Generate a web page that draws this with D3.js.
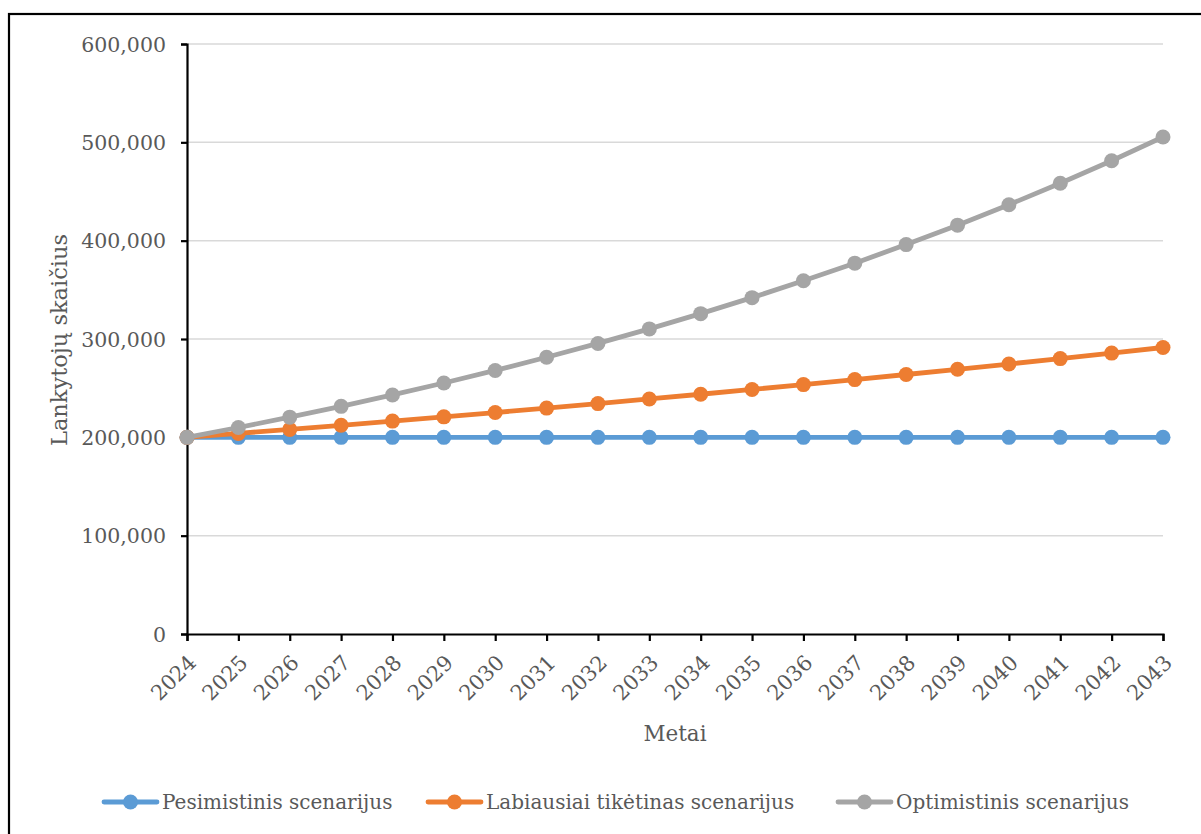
<!DOCTYPE html>
<html>
<head>
<meta charset="utf-8">
<script src="https://cdn.jsdelivr.net/npm/d3@7"></script>
<style>
  html, body { margin: 0; padding: 0; background: #fff; }
  svg { display: block; }
  text { font-family: "DejaVu Serif", "Liberation Serif", serif; fill: #595959; }
</style>
</head>
<body>
<svg id="chart" width="1201" height="834"></svg>
<script>
const years = ["2024","2025","2026","2027","2028","2029","2030","2031","2032","2033","2034","2035","2036","2037","2038","2039","2040","2041","2042","2043"];
const pessimistic = [200000,200000,200000,200000,200000,200000,200000,200000,200000,200000,200000,200000,200000,200000,200000,200000,200000,200000,200000,200000];
const likely = [200000,204000,208080,212242,216486,220816,225233,229737,234332,239019,243799,248675,253648,258721,263896,269174,274557,280048,285649,291362];
const optimistic = [200000,210000,220500,231525,243101,255256,268019,281420,295491,310266,325779,342068,359171,377130,395986,415786,436575,458404,481324,505390];
const yTicks = [0,100000,200000,300000,400000,500000,600000];
const seriesNames = ["Pesimistinis scenarijus","Labiausiai tikėtinas scenarijus","Optimistinis scenarijus"];
const seriesColors = ["#5b9bd5","#ed7d31","#a5a5a5"];
const xTitle = "Metai";
const yTitle = "Lankytojų skaičius";

(function(){
const series = [pessimistic, likely, optimistic].map((v,i)=>({name:seriesNames[i], color:seriesColors[i], values:v}));

const svg = d3.select("#chart");
const pl = 187, pr = 1163, pt = 44, pb = 634;

// outer frame (top and left visible)
svg.append("rect").attr("x",9).attr("y",14).attr("width",1260).attr("height",900)
  .attr("fill","none").attr("stroke","#000").attr("stroke-width",2.2);

const x = d3.scalePoint().domain(years).range([pl,pr]);
const y = d3.scaleLinear().domain([0,600000]).range([pb,pt]);

// gridlines
svg.append("g").selectAll("line").data(yTicks.filter(d=>d>0)).join("line")
  .attr("x1",pl).attr("x2",pr)
  .attr("y1",d=>y(d)).attr("y2",d=>y(d))
  .attr("stroke","#d9d9d9").attr("stroke-width",1.5);

// y axis
const fmt = d3.format(",");
const yAxis = svg.append("g").attr("transform",`translate(${pl},0)`)
  .call(d3.axisLeft(y).tickValues(yTicks).tickFormat(d=>fmt(d)).tickSizeOuter(0).tickSize(6).tickPadding(15));
yAxis.select(".domain").attr("stroke","#000").attr("stroke-width",2.2);
yAxis.selectAll(".tick line").attr("stroke","#000").attr("stroke-width",2.2);
yAxis.selectAll(".tick text").attr("font-size",20.5).attr("font-family","DejaVu Serif").attr("fill","#595959").attr("dy","0.35em");

// x axis
const xAxis = svg.append("g").attr("transform",`translate(0,${pb})`)
  .call(d3.axisBottom(x).tickSizeOuter(0).tickSize(7));
xAxis.select(".domain").attr("stroke","#000").attr("stroke-width",2.2);
xAxis.selectAll(".tick line").attr("stroke","#000").attr("stroke-width",2.2);
xAxis.selectAll(".tick text")
  .attr("font-size",21).attr("font-family","DejaVu Serif").attr("fill","#595959")
  .attr("text-anchor","end").attr("dy",0).attr("y",0)
  .attr("transform","translate(10,30) rotate(-45)");

// lines
const line = d3.line().x((d,i)=>x(years[i])).y(d=>y(d));
const g = svg.append("g");
series.forEach(s=>{
  g.append("path").datum(s.values).attr("d",line)
    .attr("fill","none").attr("stroke",s.color).attr("stroke-width",4.8).attr("stroke-linejoin","round");
  g.append("g").selectAll("circle").data(s.values).join("circle")
    .attr("cx",(d,i)=>x(years[i])).attr("cy",d=>y(d)).attr("r",7.5).attr("fill",s.color);
});

// axis titles
svg.append("text").attr("x",(pl+pr)/2).attr("y",741).attr("text-anchor","middle")
  .attr("font-size",21.5).text(xTitle);
svg.append("text").attr("transform",`translate(67,340) rotate(-90)`).attr("text-anchor","middle")
  .attr("font-size",22.5).text(yTitle);

// legend
const legendX = [104, 428, 838];
const lg = svg.append("g");
series.forEach((s,i)=>{
  const lx = legendX[i], ly = 802;
  lg.append("line").attr("x1",lx).attr("x2",lx+53).attr("y1",ly).attr("y2",ly)
    .attr("stroke",s.color).attr("stroke-width",4.8).attr("stroke-linecap","round");
  lg.append("circle").attr("cx",lx+26.5).attr("cy",ly).attr("r",7.5).attr("fill",s.color);
  lg.append("text").attr("x",lx+58).attr("y",ly).attr("dy","0.35em")
    .attr("font-size",20).text(s.name);
});
})();
</script>
</body>
</html>
